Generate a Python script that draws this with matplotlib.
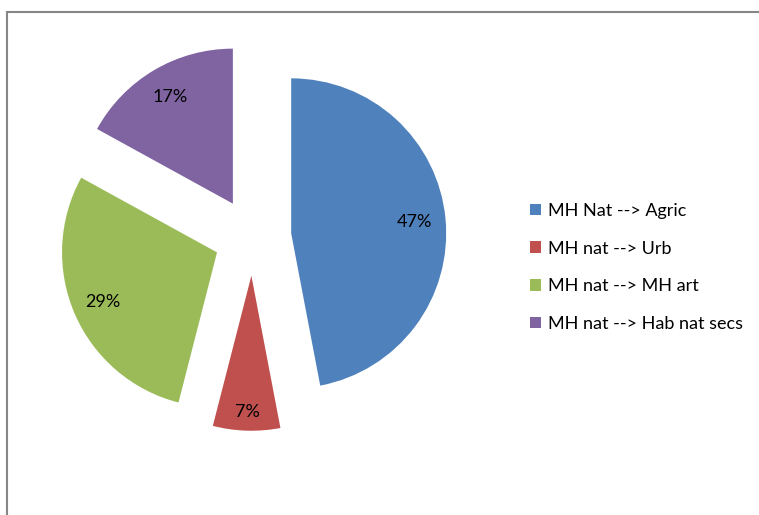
import matplotlib
matplotlib.use("Agg")
import matplotlib.pyplot as plt
from matplotlib.patches import Rectangle, Patch
import numpy as np

categories = ["MH Nat --> Agric", "MH nat --> Urb", "MH nat --> MH art", "MH nat --> Hab nat secs"]
values = [47, 7, 29, 17]
colors = ["#4F81BD", "#C0504D", "#9BBB59", "#8064A2"]

W, H, DPI = 759, 515, 100
fig = plt.figure(figsize=(W / DPI, H / DPI), dpi=DPI)
plt.rcParams["font.family"] = ["Lato", "DejaVu Sans"]

# pie centre and radius in pixels
cx, cy, r = 252.6, 237.0, 155.0
ax = fig.add_axes([0, 0, 1, 1])

wedges, texts, autotexts = ax.pie(
    values, colors=colors, startangle=90, counterclock=False,
    explode=[0.25] * len(values), radius=1.0, pctdistance=0.8,
    autopct=lambda p: f"{p:.0f}%", textprops=dict(fontsize=13, color="black"),
    wedgeprops=dict(linewidth=0), normalize=True,
)
ax.set_aspect("auto")
ax.set_xlim(-cx / r, (W - cx) / r)
ax.set_ylim(-(H - cy) / r, cy / r)
ax.axis("off")

# the small slice's label sits a little further out
w = wedges[1]
mid = np.deg2rad((w.theta1 + w.theta2) / 2)
x0, y0 = w.center
autotexts[1].set_position((x0 + 0.88 * np.cos(mid), y0 + 0.88 * np.sin(mid)))

handles = [Patch(facecolor=c, edgecolor="none") for c in colors]
leg = fig.legend(handles, categories, loc="upper left",
                 bbox_to_anchor=(530 / W, 1 - 203 / H), frameon=False,
                 fontsize=13, handlelength=0.62, handleheight=0.62,
                 handletextpad=0.35, labelspacing=1.2, borderpad=0, borderaxespad=0)

# chart area border
fig.add_artist(Rectangle((7 / W, -0.1), 1.2, 1 - 12 / H + 0.1,
                         transform=fig.transFigure, fill=False,
                         edgecolor="#868686", linewidth=1.5))

fig.savefig("out.png", dpi=DPI)
